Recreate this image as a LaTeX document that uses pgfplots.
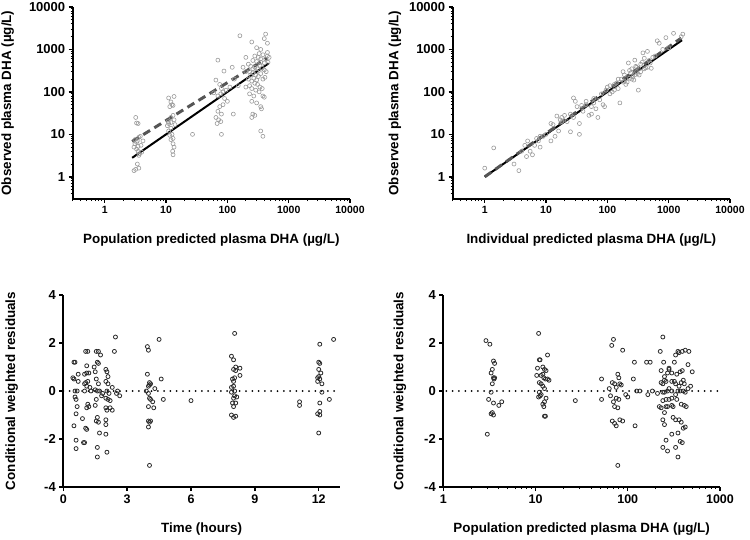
\documentclass[border=0pt]{standalone}
\usepackage{fontspec}
\setmainfont{Liberation Sans}
\usepackage{pgfplots}
\pgfplotsset{compat=1.18}
\definecolor{ptgray}{HTML}{9A9A9A}
\definecolor{dashgray}{HTML}{555555}
\definecolor{ptdark}{HTML}{2A2A2A}
\pgfplotsset{
  prism/.style={
    scale only axis,
    anchor=south west,
    axis x line*=bottom,
    axis y line*=left,
    axis line style={line width=2pt, black, -},
    tick align=outside,
    major tick length=4pt,
    minor tick length=2.2pt,
    tick style={black, line width=1.4pt},
    minor tick style={black, line width=1pt},
    y tick label style={font=\bfseries\fontsize{13}{13}\selectfont},
    x tick label style={font=\bfseries\fontsize{12.5}{13}\selectfont},
    label style={font=\bfseries\fontsize{13.4}{14}\selectfont},
    clip=false,
  },
  toppts/.style={only marks, mark=o, mark size=2pt, ptgray, mark options={line width=0.6pt}},
  botpts/.style={only marks, mark=o, mark size=2pt, ptdark, mark options={line width=0.8pt}},
  zeroline/.style={black, line width=2pt, dash pattern=on 0pt off 6.3pt, line cap=round},
  logminor/.style={
    minor xtick={0.3,0.4,0.5,0.6,0.7,0.8,0.9,2,3,4,5,6,7,8,9,20,30,40,50,60,70,80,90,200,300,400,500,600,700,800,900,2000,3000,4000,5000,6000,7000,8000,9000},
    minor ytick={0.4,0.5,0.6,0.7,0.8,0.9,2,3,4,5,6,7,8,9,20,30,40,50,60,70,80,90,200,300,400,500,600,700,800,900,2000,3000,4000,5000,6000,7000,8000,9000},
  },
}
\begin{document}
\begin{tikzpicture}
\useasboundingbox (0pt,0pt) rectangle (750pt,539pt);
% ---------------- top left ----------------
\begin{axis}[prism, logminor, xmode=log, ymode=log, at={(72.7pt,340pt)}, width=277.3pt, height=192pt,
  xmin=0.3, xmax=10000, ymin=0.3, ymax=10000,
  xtick={1,10,100,1000,10000}, xticklabels={1,10,100,1000,10000},
  ytick={1,10,100,1000,10000}, yticklabels={1,10,100,1000,10000},
  x tick label style={font=\bfseries\fontsize{10.5}{11}\selectfont},
  xlabel={Population predicted plasma DHA (µg/L)},
  ylabel={Observed plasma DHA (µg/L)},
  x label style={at={(axis description cs:0.5,-0.2135)}, anchor=center},
  y label style={at={(axis description cs:-0.2344,0.5)}, anchor=center},
]
\addplot[toppts] coordinates {
(3.2,25)(3.5,18)(3.3,18.5)(3.6,8.5)(3.4,7)(3.1,6)(3.0,5)(3.3,4.5)(3.5,4)(3.7,3.5)(3.4,2)(3.2,1.5)(3.6,1.6)(3.0,1.4)(3.8,9)(4.2,7)(3.9,5.5)(3.3,6.5)(3.6,3.2)(4.0,3.8)(3.5,5.2)(3.1,7.5)
(11,72)(12,58)(13.5,78)(12.5,50)(13,48)(11.5,45)(13,28)(12,25)(13.5,22)(11,18)(10.5,16)(12,14)(11,12)(12.5,10)(13,8)(12,7.5)(13,6)(13.5,5)(12.8,4)(13,3.3)(10.8,20)(12,19)(14,17)(27,10)(11.5,9.5)
(70,560)(65,190)(88,310)(75,150)(80,120)(85,100)(78,90)(90,70)(100,60)(85,50)(75,45)(70,35)(80,30)(65,25)(72,22)(78,20)(68,18)(80,10)(120,380)(125,30)(95,110)(110,130)(60,95)(70,80)(130,200)(150,140)
(160,2100)(250,1500)(300,1100)(420,2300)(400,1800)(450,1400)(350,1000)(330,800)(380,750)(450,850)(280,700)(320,650)(260,550)(300,520)(350,500)(400,480)(420,600)(450,700)(220,450)(240,400)(280,380)(310,350)(340,420)(370,360)(400,330)(430,300)(230,300)(260,280)(290,250)(320,230)(350,270)(380,200)(410,220)(220,200)(250,180)(280,160)(310,150)(340,130)(370,120)(250,120)(290,110)(330,100)(230,90)(270,80)(380,80)(400,75)(250,60)(300,55)(350,45)(360,40)(260,30)(250,25)(280,28)(350,12)(380,9)(200,650)(180,380)(200,130)(230,140)(270,210)(300,190)(460,500)(480,650)(350,600)(300,300)(260,350)(240,250)(200,300)
};
\addplot[black, line width=2pt] coordinates {(2.8,2.8) (470,470)};
\addplot[dashgray, line width=3pt, dash pattern=on 8pt off 5pt] coordinates {(2.8,6.8) (440,620)};
\end{axis}
% ---------------- top right ----------------
\begin{axis}[prism, logminor, xmode=log, ymode=log, at={(452.7pt,340pt)}, width=277.3pt, height=192pt,
  xmin=0.3, xmax=10000, ymin=0.3, ymax=10000,
  xtick={1,10,100,1000,10000}, xticklabels={1,10,100,1000,10000},
  ytick={1,10,100,1000,10000}, yticklabels={1,10,100,1000,10000},
  x tick label style={font=\bfseries\fontsize{10.5}{11}\selectfont},
  xlabel={Individual predicted plasma DHA (µg/L)},
  ylabel={Observed plasma DHA (µg/L)},
  x label style={at={(axis description cs:0.5,-0.2135)}, anchor=center},
  y label style={at={(axis description cs:-0.208,0.5)}, anchor=center},
]
\addplot[toppts] coordinates {
(1,1.6)(1.4,4.8)(3,2)(3.6,1.4)(4,4)(4.5,5.5)(4.8,3)(5,7)(5.5,4)(6,3.3)(6.5,5.5)(7,8)(8,5)(9,9)(10,10)(12,7)(13,17)(14,9)(15,27)(16,12)(17,22)(18,20)(20,28)(22,20)(25,11.5)(28,72)(30,60)(32,45)(35,18)(35,10)(38,48)(40,35)(45,60)(50,28)(55,30)(60,55)(65,40)(70,25)(75,65)(80,90)(85,50)(90,45)(95,110)(100,130)(110,90)(120,100)(130,150)(140,160)(150,120)(160,55)(170,200)(180,300)(190,250)(200,150)(210,170)(220,480)(230,320)(240,280)(250,350)(260,230)(270,190)(280,560)(290,400)(300,300)(320,110)(330,250)(350,450)(370,500)(380,830)(400,620)(420,370)(450,900)(480,550)(500,480)(520,360)(550,650)(600,700)(650,1600)(700,1400)(800,1000)(900,1900)(1000,1100)(1200,2400)(1600,2000)(1700,2300)(12,18)(7.5,7)(18,25)(25,30)(55,45)(130,110)(150,200)(180,170)(230,210)(280,250)(300,380)(350,300)(400,350)(450,380)(310,270)(250,200)(190,180)(110,140)(60,70)(45,50)(28,25)(8,9)
};
\addplot[black, line width=2pt] coordinates {(1,1) (1650,1650)};
\addplot[dashgray, line width=3pt, dash pattern=on 8pt off 5pt] coordinates {(1,1) (1600,1850)};
\end{axis}
% ---------------- bottom left ----------------
\begin{axis}[prism, at={(63.3pt,52pt)}, width=276.7pt, height=192pt,
  xmin=0, xmax=13, ymin=-4, ymax=4,
  xtick={0,3,6,9,12}, xticklabels={0,3,6,9,12},
  ytick={-4,-2,0,2,4}, yticklabels={-4,-2,0,2,4},
  xlabel={Time (hours)},
  ylabel={Conditional weighted residuals},
  x label style={at={(axis description cs:0.5,-0.2203)}, anchor=center},
  y label style={at={(axis description cs:-0.1865,0.5)}, anchor=center},
]
\addplot[zeroline] coordinates {(0,0) (13,0)};
\addplot[botpts] coordinates {
(0.5,1.2)(0.55,1.2)(0.45,0.55)(0.5,0.5)(0.55,-0.25)(0.6,-0.35)(0.5,-1.45)(0.6,-0.95)(0.6,-2.05)(0.6,-2.4)(0.55,0)(0.65,0)(0.65,-0.65)(0.7,0.7)(0.7,0.4)(0.9,-1.15)(0.95,-2.15)(1.0,-2.15)
(1.05,1.65)(1.15,1.65)(1.1,1.05)(1.1,0.75)(1.2,0.75)(1.0,0.7)(1.05,0.35)(1.0,0.3)(1.15,0.4)(1.1,0.2)(1.0,0)(1.15,-0.55)(1.2,-0.65)(1.1,-0.7)(1.05,-1.55)(1.1,-1.6)(1.25,0.15)(1.3,0)
(1.55,1.65)(1.65,1.65)(1.6,1.2)(1.65,1.15)(1.5,0.8)(1.55,0.5)(1.65,0.3)(1.5,0.05)(1.6,0)(1.7,0)(1.55,-0.35)(1.5,-0.6)(1.6,-1.1)(1.55,-1.25)(1.65,-1.3)(1.7,-1.75)(1.6,-2.35)(1.6,-2.75)(1.75,1.5)(1.45,1.0)(1.8,-0.2)(1.85,-0.1)
(2.0,0.9)(2.05,0.8)(2.1,0.6)(2.0,0.4)(2.1,0.3)(2.05,0)(2.15,-0.1)(2.0,-0.3)(2.1,-0.35)(2.2,-0.7)(2.0,-0.7)(2.05,-0.8)(2.0,-1.2)(2.0,-1.4)(2.0,-1.8)(2.05,-2.55)(2.2,-0.4)(2.3,-0.8)
(2.45,2.25)(2.4,1.65)(2.5,-0.1)(2.55,0)(2.65,-0.2)(2.3,0.15)
(3.95,1.85)(4.0,1.7)(3.95,0.7)(4.05,0.35)(4.1,0.3)(4.0,0.2)(4.05,0.25)(3.9,0)(4.0,-0.1)(4.05,-0.3)(4.1,-0.35)(4.0,-0.65)(4.2,-0.45)(4.25,-0.7)(4.0,-1.25)(4.05,-1.3)(4.1,-1.25)(4.0,-1.5)(4.05,-3.1)(4.5,2.15)(4.3,0.1)(4.6,0.5)(4.7,-0.35)
(6.0,-0.4)
(8.05,2.4)(7.9,1.45)(8.0,1.3)(8.1,1.0)(8.0,0.9)(8.1,0.85)(8.3,0.95)(8.3,0.65)(7.95,0.5)(8.0,0.4)(8.05,0.55)(7.9,0.15)(8.0,0.2)(8.05,0)(7.9,-0.05)(8.0,-0.3)(8.05,-0.2)(7.95,-0.5)(8.1,-0.5)(8.0,-0.65)(7.9,-1.0)(8.0,-1.1)(8.1,-1.05)(8.15,-0.25)
(11.1,-0.45)(11.1,-0.6)
(12.05,1.95)(12.0,1.2)(12.05,1.15)(12.0,0.9)(12.1,0.75)(12.0,0.6)(11.95,0.55)(12.05,0.5)(12.15,0.3)(11.95,0.4)(12.15,-0.05)(12.05,-0.5)(11.95,-0.95)(12.05,-1.0)(12.05,-0.85)(12.0,-1.75)(12.5,-0.35)(12.7,2.15)
};
\end{axis}
% ---------------- bottom right ----------------
\begin{axis}[prism, xmode=log, at={(443.3pt,52pt)}, width=276.7pt, height=192pt,
  xmin=1, xmax=1000, ymin=-4, ymax=4,
  xtick={1,10,100,1000}, xticklabels={1,10,100,1000},
  minor xtick={2,3,4,5,6,7,8,9,20,30,40,50,60,70,80,90,200,300,400,500,600,700,800,900},
  ytick={-4,-2,0,2,4}, yticklabels={-4,-2,0,2,4},
  xlabel={Population predicted plasma DHA (µg/L)},
  ylabel={Conditional weighted residuals},
  x label style={at={(axis description cs:0.5,-0.2203)}, anchor=center},
  y label style={at={(axis description cs:-0.1565,0.5)}, anchor=center},
]
\addplot[zeroline] coordinates {(1.08,0) (1000,0)};
\addplot[botpts] coordinates {
(2.9,2.1)(3.2,1.95)(3.5,1.25)(3.6,1.15)(3.4,0.9)(3.3,0.75)(3.5,0.55)(3.55,0.5)(3.6,0.55)(3.4,0.3)(3.3,-0.05)(3.1,-0.35)(3.5,-0.5)(4.0,-0.6)(4.3,-0.45)(3.4,-0.9)(3.5,-1.0)(3.3,-0.95)(3.0,-1.8)
(10.8,2.4)(11,1.3)(11.2,1.3)(10.5,0.95)(10.3,0.65)(12,1.0)(12.5,0.9)(13,0.85)(13.5,1.5)(11.5,0.65)(12,0.7)(12.3,0.55)(12.8,0.5)(13.5,0.5)(14,0.45)(11,0.35)(11.5,0.3)(12,0.2)(12.5,0.1)(11,-0.05)(11.5,-0.15)(10.8,-0.25)(13,-0.3)(12.5,-0.45)(12,-0.55)(12.3,-0.65)(12.5,-1.05)(12.8,-1.05)(11.2,-0.2)
(27,-0.4)
(52,0.5)(52,-0.35)(63,0.1)(67,1.9)(70,2.15)(68,0.35)(72,0.3)(75,0.15)(78,0.7)(80,0.55)(82,0.3)(85,0.25)(88,1.7)(65,-0.2)(75,-0.3)(80,-0.35)(70,-0.45)(72,-0.65)(78,-0.7)(68,-1.25)(72,-1.35)(75,-1.45)(82,-1.2)(88,-1.25)(78,-3.1)(95,-0.15)(100,-0.25)(115,0.5)(118,1.2)(120,-1.45)(125,0)(135,0)(160,1.2)(175,1.2)(165,-0.15)(185,0)
(240,2.25)(225,1.65)(245,1.2)(230,0.85)(210,-0.1)(220,-0.65)(250,0.45)(260,0.4)(240,0.3)(270,0.75)(280,0.9)(300,0.4)(320,1.2)(330,1.5)(350,1.65)(360,1.6)(390,1.65)(420,1.7)(460,1.65)(450,1.1)(500,0.8)(340,0.7)(370,0.8)(390,0.85)(400,0.45)(410,0.3)(380,0.35)(360,0.2)(330,0.3)(300,0)(270,0)(250,-0.05)(280,-0.35)(260,-0.35)(240,-0.4)(230,-0.7)(250,-0.9)(260,-0.65)(270,-0.65)(300,-0.3)(330,-0.15)(350,0)(370,0)(400,0)(420,-0.05)(450,0.1)(480,0.2)(310,-0.65)(340,-0.35)(380,-0.55)(410,-0.6)(430,-0.65)(240,-1.2)(250,-1.4)(310,-1.1)(330,-1.2)(360,-1.2)(380,-1.3)(400,-1.55)(420,-1.5)(350,-1.75)(300,-1.8)(260,-2.05)(240,-2.35)(270,-2.5)(330,-2.35)(350,-2.75)(370,-2.1)(390,-2.15)(230,0.35)(250,0.6)(280,0.95)(300,0.75)(320,0.4)(280,0.1)(300,-0.6)(240,-0.05)
};
\end{axis}
\end{tikzpicture}
\end{document}
